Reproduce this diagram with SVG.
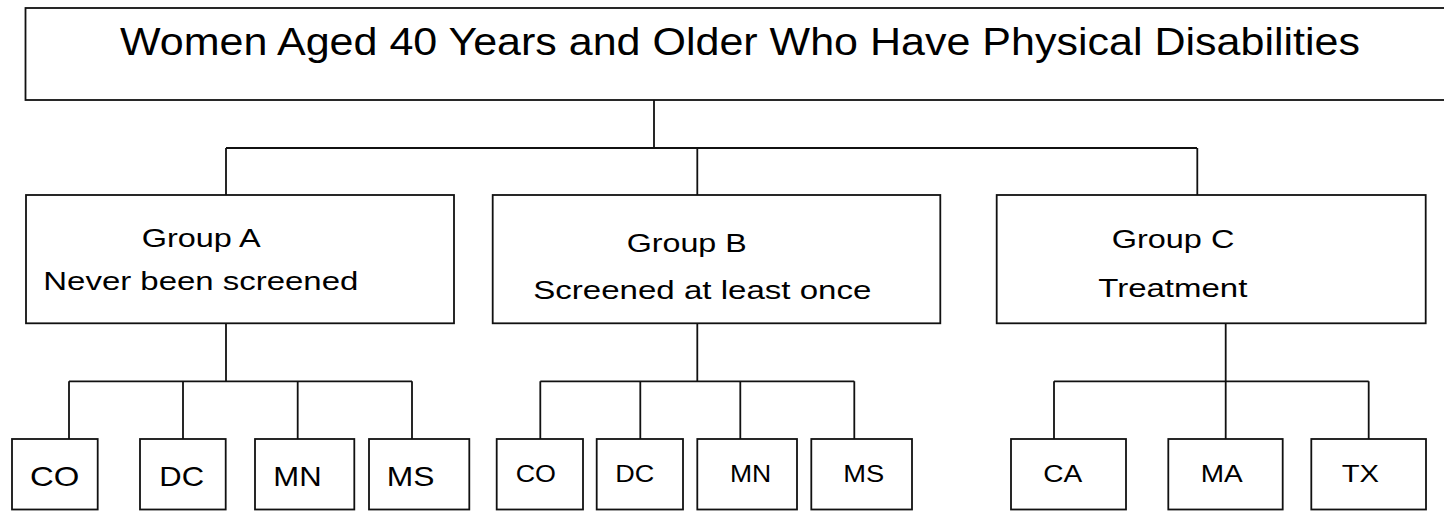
<svg xmlns="http://www.w3.org/2000/svg" width="1444" height="511" viewBox="0 0 1444 511">
<style>
.box{fill:#fff;stroke:#111;stroke-width:1.8}
.ln{fill:none;stroke:#111;stroke-width:1.8}
text{font-family:"Liberation Sans",Arial,sans-serif;fill:#000}
.t{font-size:38px}
.g{font-size:26.5px}
.la{font-size:28px}
.lb{font-size:23px}
</style>
<rect width="1444" height="511" fill="#fff"/>
<g id="connectors">
<path class="ln" d="M654,100 V148 M226,148 H1197 M226,148 V195 M697.3,148 V195 M1197.3,148 V195"/>
<path class="ln" d="M226,323 V381.3 M69,381.3 H412 M69,381.3 V439 M183,381.3 V439 M297.7,381.3 V439 M412,381.3 V439"/>
<path class="ln" d="M697.3,323 V381.3 M540.3,381.3 H854.3 M540.3,381.3 V439 M640.3,381.3 V439 M740.3,381.3 V439 M854.3,381.3 V439"/>
<path class="ln" d="M1225.7,323 V439 M1054,381.3 H1368.7 M1054,381.3 V439 M1368.7,381.3 V439"/>
</g>
<g id="root">
<rect class="box" x="25.5" y="8" width="1430" height="92"/>
<text class="t" x="120" y="55" textLength="1240" lengthAdjust="spacingAndGlyphs">Women Aged 40 Years and Older Who Have Physical Disabilities</text>
</g>
<g id="groupA">
<rect class="box" x="26" y="195" width="428" height="128.3"/>
<text class="g" x="141.7" y="246.7" textLength="119" lengthAdjust="spacingAndGlyphs">Group A</text>
<text class="g" x="43.3" y="289.7" textLength="315" lengthAdjust="spacingAndGlyphs">Never been screened</text>
</g>
<g id="groupB">
<rect class="box" x="492.7" y="195" width="447.6" height="128.3"/>
<text class="g" x="626.7" y="252.3" textLength="120" lengthAdjust="spacingAndGlyphs">Group B</text>
<text class="g" x="533.3" y="299.3" textLength="338" lengthAdjust="spacingAndGlyphs">Screened at least once</text>
</g>
<g id="groupC">
<rect class="box" x="996.7" y="195" width="429" height="128.3"/>
<text class="g" x="1111.7" y="248.3" textLength="122.7" lengthAdjust="spacingAndGlyphs">Group C</text>
<text class="g" x="1098.3" y="297.3" textLength="149" lengthAdjust="spacingAndGlyphs">Treatment</text>
</g>
<g id="A-CO"><rect class="box" x="12" y="439" width="85.7" height="70.5"/><text class="la" x="30" y="485.7" textLength="49.3" lengthAdjust="spacingAndGlyphs">CO</text></g>
<g id="A-DC"><rect class="box" x="140" y="439" width="85.7" height="70.5"/><text class="la" x="159.3" y="485.7" textLength="44.7" lengthAdjust="spacingAndGlyphs">DC</text></g>
<g id="A-MN"><rect class="box" x="255" y="439" width="99.3" height="70.5"/><text class="la" x="273.3" y="485.7" textLength="48.3" lengthAdjust="spacingAndGlyphs">MN</text></g>
<g id="A-MS"><rect class="box" x="369" y="439" width="100.3" height="70.5"/><text class="la" x="386.7" y="485.7" textLength="47.7" lengthAdjust="spacingAndGlyphs">MS</text></g>
<g id="B-CO"><rect class="box" x="496.7" y="439" width="86.3" height="70.5"/><text class="lb" x="515.7" y="481.7" textLength="40.3" lengthAdjust="spacingAndGlyphs">CO</text></g>
<g id="B-DC"><rect class="box" x="596.7" y="439" width="86.3" height="70.5"/><text class="lb" x="615.3" y="481.7" textLength="39" lengthAdjust="spacingAndGlyphs">DC</text></g>
<g id="B-MN"><rect class="box" x="697.3" y="439" width="99.7" height="70.5"/><text class="lb" x="730" y="481.7" textLength="41.3" lengthAdjust="spacingAndGlyphs">MN</text></g>
<g id="B-MS"><rect class="box" x="811.3" y="439" width="100.7" height="70.5"/><text class="lb" x="843.3" y="481.7" textLength="41" lengthAdjust="spacingAndGlyphs">MS</text></g>
<g id="C-CA"><rect class="box" x="1011" y="439" width="115" height="70.5"/><text class="lb" x="1043.3" y="481.7" textLength="39" lengthAdjust="spacingAndGlyphs">CA</text></g>
<g id="C-MA"><rect class="box" x="1168.3" y="439" width="114.4" height="70.5"/><text class="lb" x="1200.7" y="481.7" textLength="42" lengthAdjust="spacingAndGlyphs">MA</text></g>
<g id="C-TX"><rect class="box" x="1311.3" y="439" width="114.7" height="70.5"/><text class="lb" x="1341.7" y="481.7" textLength="37.3" lengthAdjust="spacingAndGlyphs">TX</text></g>
</svg>
